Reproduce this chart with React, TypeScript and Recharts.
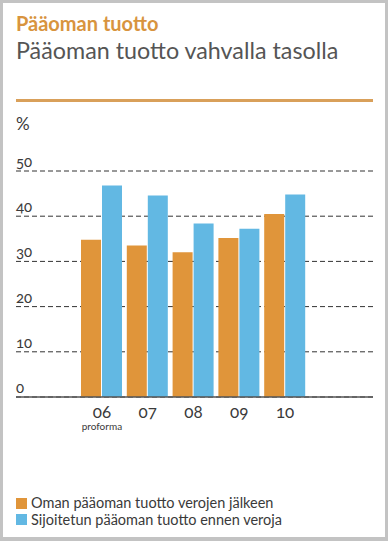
import React from "react";
import { BarChart, Bar, XAxis, YAxis, CartesianGrid } from "recharts";

const title = "Pääoman tuotto";
const subtitle = "Pääoman tuotto vahvalla tasolla";
const unitLabel = "%";
const years = ["06", "07", "08", "09", "10"];
const yearNotes = ["proforma", "", "", "", ""];
const omanPaaoman = [34.8, 33.5, 32.0, 35.2, 40.5];
const sijoitetunPaaoman = [46.8, 44.6, 38.4, 37.2, 44.8];
const seriesNames = [
  "Oman pääoman tuotto verojen jälkeen",
  "Sijoitetun pääoman tuotto ennen veroja",
];
const yTicks = [0, 10, 20, 30, 40, 50];

const ORANGE = "#e0953a";
const BLUE = "#62b8e3";
const TEXT = "#3a3a3a";
const FONT = "Lato, 'Open Sans', sans-serif";

const data = years.map((y, i) => ({
  year: y,
  note: yearNotes[i],
  oman: omanPaaoman[i],
  sijoitetun: sijoitetunPaaoman[i],
}));

const YTick = (props: any) => {
  const { y, payload } = props;
  return (
    <text
      x={16}
      y={y - 4}
      textAnchor="start"
      fill={TEXT}
      fontSize={15}
      fontFamily={FONT}
      style={{ fontVariantNumeric: "oldstyle-nums" }}
    >
      {payload.value}
    </text>
  );
};

const XTick = (props: any) => {
  const { x, y, payload, index } = props;
  const note = yearNotes[index] ?? "";
  return (
    <g>
      <text
        x={x}
        y={y}
        dy={13}
        textAnchor="middle"
        fill={TEXT}
        fontSize={17}
        fontFamily={FONT}
        style={{ fontVariantNumeric: "oldstyle-nums" }}
      >
        {payload.value}
      </text>
      {note ? (
        <text
          x={x}
          y={y}
          dy={25}
          textAnchor="middle"
          fill={TEXT}
          fontSize={10}
          fontFamily={FONT}
        >
          {note}
        </text>
      ) : null}
    </g>
  );
};

export default function App() {
  return (
    <div
      style={{
        position: "absolute",
        left: 0,
        top: 0,
        width: 388,
        height: 541,
        background: "#fff",
        fontFamily: FONT,
      }}
    >
      <div
        style={{
          position: "absolute",
          inset: 0,
          borderStyle: "solid",
          borderColor: "#c3c3c3",
          borderWidth: "3px 3px 4px 3px",
          boxSizing: "border-box",
          pointerEvents: "none",
          zIndex: 2,
        }}
      />
      <div
        style={{
          position: "absolute",
          left: 16,
          top: 11,
          fontSize: 20,
          fontWeight: 700,
          color: "#d8943e",
          lineHeight: "24px",
          whiteSpace: "nowrap",
        }}
      >
        {title}
      </div>
      <div
        style={{
          position: "absolute",
          left: 16,
          top: 36,
          fontSize: 23.3,
          color: "#555",
          lineHeight: "28px",
          whiteSpace: "nowrap",
        }}
      >
        {subtitle}
      </div>
      <div
        style={{
          position: "absolute",
          left: 16,
          top: 99,
          width: 357,
          height: 3,
          background: "#d9a05a",
        }}
      />
      <div
        style={{
          position: "absolute",
          left: 16,
          top: 114,
          fontSize: 17,
          color: TEXT,
          lineHeight: "20px",
        }}
      >
        {unitLabel}
      </div>
      <div style={{ position: "absolute", left: 0, top: 0 }}>
        <BarChart
          width={388}
          height={541}
          data={data}
          margin={{ top: 171, right: 15, bottom: 114, left: 0 }}
          barCategoryGap={2}
          barGap={1}
        >
          <CartesianGrid
            vertical={false}
            stroke="#333"
            strokeDasharray="5 3"
            strokeWidth={1}
          />
          <XAxis
            dataKey="year"
            height={30}
            padding={{ left: 63, right: 65 }}
            axisLine={{ stroke: "#555", strokeWidth: 1.5 }}
            tickLine={false}
            tick={<XTick />}
            interval={0}
          />
          <YAxis
            width={16}
            domain={[0, 50]}
            ticks={yTicks}
            axisLine={false}
            tickLine={false}
            tick={<YTick />}
          />
          <Bar dataKey="oman" name={seriesNames[0]} fill={ORANGE} isAnimationActive={false} />
          <Bar dataKey="sijoitetun" name={seriesNames[1]} fill={BLUE} isAnimationActive={false} />
        </BarChart>
      </div>
      <div
        style={{
          position: "absolute",
          left: 16,
          top: 495,
          fontSize: 14.5,
          color: TEXT,
          lineHeight: "16.5px",
        }}
      >
        {seriesNames.map((n, i) => (
          <div key={n} style={{ display: "flex", alignItems: "center", whiteSpace: "nowrap" }}>
            <span
              style={{
                display: "inline-block",
                width: 11,
                height: 11,
                background: i === 0 ? ORANGE : BLUE,
                marginRight: 4,
              }}
            />
            {n}
          </div>
        ))}
      </div>
    </div>
  );
}
